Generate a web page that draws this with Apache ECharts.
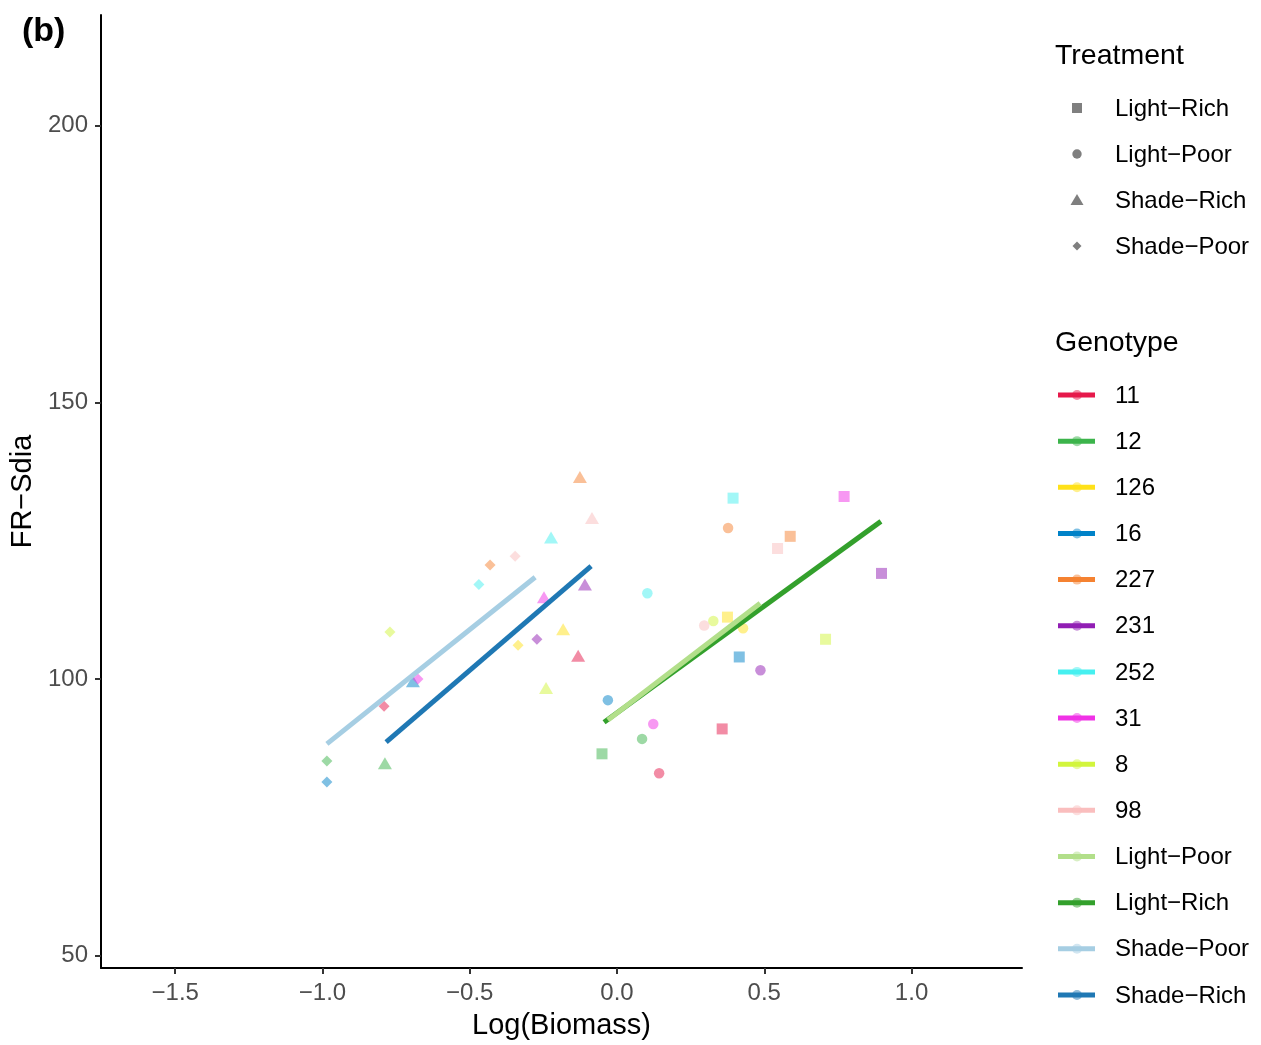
<!DOCTYPE html>
<html>
<head>
<meta charset="utf-8">
<script src="https://cdn.jsdelivr.net/npm/echarts@6/dist/echarts.min.js"></script>
<style>html,body{margin:0;padding:0;background:#fff;}#c{width:1261px;height:1045px;}</style>
</head>
<body>
<div id="c"></div>
<script>
// ---- data ----
var genotypes = ['11','12','126','16','227','231','252','31','8','98'];
var genoColors = ['#e6194b','#3cb44b','#ffe119','#0082c8','#f58231','#911eb4','#46f0f0','#f032e6','#d2f53c','#fabebe'];
var treatments = ['Light−Rich','Light−Poor','Shade−Rich','Shade−Poor'];
// points per treatment, in genotype order [logBiomass, FR-Sdia]
var lightRich = [[0.357,91.0],[-0.051,86.5],[0.375,111.2],[0.415,104.0],[0.588,125.8],[0.898,119.1],[0.394,132.7],[0.771,133.0],[0.708,107.2],[0.545,123.6]];
var lightPoor = [[0.143,83.0],[0.085,89.2],[0.428,109.2],[-0.031,96.2],[0.377,127.3],[0.487,101.6],[0.103,115.5],[0.123,91.9],[0.327,110.5],[0.296,109.7]];
var shadeRich = [[-0.132,104.2],[-0.788,84.8],[-0.183,109.0],[-0.693,99.6],[-0.126,136.5],[-0.109,117.1],[-0.224,125.6],[-0.248,114.8],[-0.241,98.4],[-0.085,129.1]];
var shadePoor = [[-0.791,95.1],[-0.985,85.2],[-0.336,106.1],[-0.985,81.4],[-0.431,120.6],[-0.272,107.2],[-0.469,117.1],[-0.676,100.0],[-0.771,108.5],[-0.346,122.2]];
// fitted line endpoints
var fitNames = ['Light−Poor','Light−Rich','Shade−Poor','Shade−Rich'];
var fitColors = ['#b2df8a','#33a02c','#a6cee3','#1f78b4'];
var fitLightPoor = [[-0.031,92.6],[0.486,113.7]];
var fitLightRich = [[-0.044,92.2],[0.896,128.5]];
var fitShadePoor = [[-0.985,88.3],[-0.278,118.4]];
var fitShadeRich = [[-0.784,88.6],[-0.088,120.4]];
var xTicks = [-1.5,-1.0,-0.5,0.0,0.5,1.0];
var yTicks = [50,100,150,200];

// ---- chart ----
var FONT = '"Liberation Sans", Arial, Helvetica, sans-serif';
function fmtNum(v, d){ return (v < 0 ? '−' : '') + Math.abs(v).toFixed(d); }
function pts(arr){ return arr.map(function(p,i){ return {value:p, itemStyle:{color:genoColors[i]}}; }); }

var series = [];
var pointSets = [lightRich, lightPoor, shadeRich, shadePoor];
var symbols = ['rect','circle','triangle','diamond'];
var sizes = [[11,11],[10.5,10.5],[14,12],[11,11]];
pointSets.forEach(function(set, k){
  series.push({type:'scatter', name:treatments[k], symbol:symbols[k], symbolSize:sizes[k],
    data:pts(set), itemStyle:{opacity:0.5}, z:2, silent:true});
});
var fits = [fitLightRich, fitLightPoor, fitShadePoor, fitShadeRich];
var fitIdx = [1,0,2,3];
fits.forEach(function(f, k){
  var idx = fitIdx[k];
  series.push({type:'line', name:fitNames[idx], data:f, showSymbol:false, symbol:'none',
    lineStyle:{color:fitColors[idx], width:5, cap:'butt'}, z:3+k, silent:true, animation:false});
});

// ---- legend graphics ----
var g = [];
var DY = 1;
g.push({type:'text', left:22, top:15, style:{text:'(b)', font:'bold 34px '+FONT, fill:'#000'}});
g.push({type:'text', x:1055, y:55+DY, style:{text:'Treatment', font:'28.5px '+FONT, fill:'#000', verticalAlign:'middle'}});
var grey = '#7f7f7f';
var tY = [108,154,200,246];
var sx = 1077;
g.push({type:'rect', shape:{x:sx-5, y:tY[0]-5, width:10, height:10}, style:{fill:grey}});
g.push({type:'circle', shape:{cx:sx, cy:tY[1], r:4.7}, style:{fill:grey}});
g.push({type:'polygon', shape:{points:[[sx,tY[2]-6],[sx+6.5,tY[2]+5],[sx-6.5,tY[2]+5]]}, style:{fill:grey}});
g.push({type:'polygon', shape:{points:[[sx,tY[3]-4.5],[sx+4.5,tY[3]],[sx,tY[3]+4.5],[sx-4.5,tY[3]]]}, style:{fill:grey}});
treatments.forEach(function(t,i){
  g.push({type:'text', x:1115, y:tY[i]+DY, style:{text:t, font:'24px '+FONT, fill:'#000', verticalAlign:'middle'}});
});
g.push({type:'text', x:1055, y:342+DY, style:{text:'Genotype', font:'28.5px '+FONT, fill:'#000', verticalAlign:'middle'}});
var gLabels = genotypes.concat(fitNames);
var gColors = genoColors.concat(fitColors);
gLabels.forEach(function(lab,i){
  var y = 395 + 46.15*i;
  g.push({type:'line', shape:{x1:1058, y1:y, x2:1095, y2:y}, style:{stroke:gColors[i], lineWidth:5}});
  g.push({type:'circle', shape:{cx:1077, cy:y, r:5}, style:{fill:gColors[i], opacity:0.5}});
  g.push({type:'text', x:1115, y:y+DY, style:{text:lab, font:'24px '+FONT, fill:'#000', verticalAlign:'middle'}});
});

var option = {
  animation:false,
  backgroundColor:'#fff',
  grid:{left:101, top:15, width:921, height:954, containLabel:false},
  xAxis:{type:'value', min:-1.752, max:1.375,
    name:'Log(Biomass)', nameLocation:'middle', nameGap:43,
    nameTextStyle:{fontFamily:FONT, fontSize:29, color:'#000'},
    axisLine:{show:true, onZero:false, lineStyle:{color:'#000', width:2}},
    axisTick:{show:true, customValues:xTicks, length:6, lineStyle:{color:'#333', width:2}},
    axisLabel:{customValues:xTicks, margin:13, fontFamily:FONT, fontSize:24, color:'#4d4d4d',
      formatter:function(v){ return fmtNum(v,1); }},
    splitLine:{show:false}},
  yAxis:{type:'value', min:47.8, max:220,
    name:'FR−Sdia', nameLocation:'middle', nameGap:62,
    nameTextStyle:{fontFamily:FONT, fontSize:29, color:'#000'},
    axisLine:{show:true, onZero:false, lineStyle:{color:'#000', width:2}},
    axisTick:{show:true, customValues:yTicks, length:6, lineStyle:{color:'#333', width:2}},
    axisLabel:{customValues:yTicks, margin:13, fontFamily:FONT, fontSize:24, color:'#4d4d4d',
      padding:[7,0,0,0],
      formatter:function(v){ return String(v); }},
    splitLine:{show:false}},
  series:series,
  graphic:g
};
var chart = echarts.init(document.getElementById('c'), null, {renderer:'canvas'});
chart.setOption(option);
</script>
</body>
</html>
